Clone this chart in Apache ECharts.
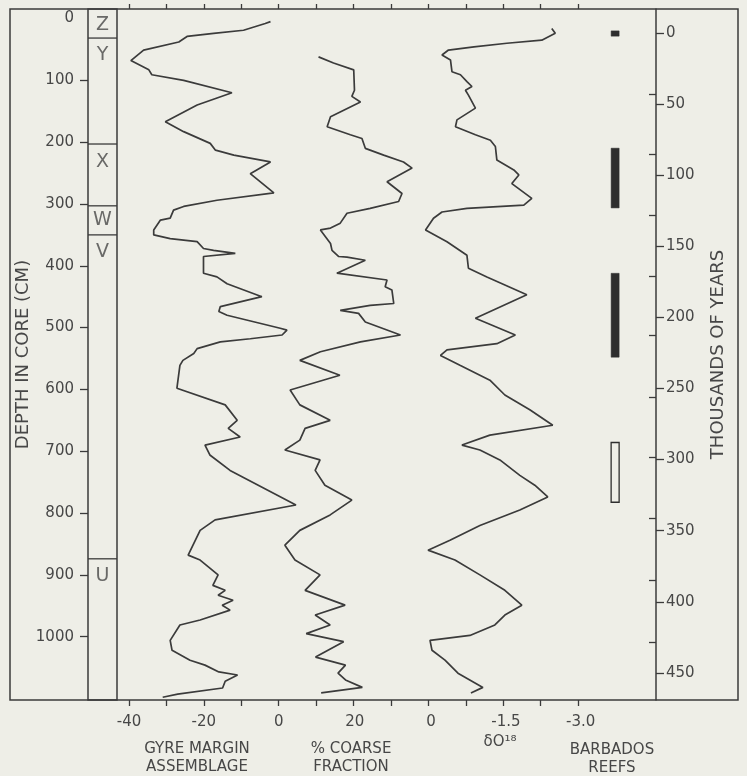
<!DOCTYPE html>
<html><head><meta charset="utf-8">
<script src="https://cdn.jsdelivr.net/npm/echarts@6/dist/echarts.min.js"></script>
<style>html,body{margin:0;padding:0;background:#eeeee7}#c{width:747px;height:776px}</style>
</head><body><div id="c"></div>
<script>
// ---- tick values / labels ----
const depthTicks = [100,200,300,400,500,600,700,800,900,1000];
const depthLabels = [0,100,200,300,400,500,600,700,800,900,1000];
const ageTicks = [0,50,100,150,200,250,300,350,400,450];
const ageMarks = [42.9,85.1,128.0,170.9,212.4,256.0,298.2,341.1,384.7,428.3];
const gyreTicks = [-40,-30,-20,-10,0,10,20,30,40,50,60,70,80];
const gyreLabels = [-40,-20,0];
const coarseLabels = [20];
const deltaLabels = [0,-1.5,-3.0];
// ---- zones (depth cm) ----
const zoneBounds = [31.6,203,303,350,874];
const zoneNames = ['Z','Y','X','W','V','U'];
const zoneLabelDepth = [10.5,59,232,326,378,902];
// ---- series: [depth cm, value] ----
const gyre = [[5,-2.2],[8,-3.6],[19,-9.4],[24,-17.4],[29,-24.5],[38,-26.7],[51,-36.1],[68,-39.5],[83,-34.7],[91,-33.9],[100,-25.4],[120,-12.5],[140,-21.8],[167,-30.3],[183,-25.4],[202,-18.3],[213,-16.9],[221,-12.0],[232,-2.2],[251,-7.6],[282,-1.3],[294,-16.5],[304,-25.4],[310,-28.1],[323,-29.0],[326,-31.6],[342,-33.4],[350,-33.4],[356,-29.0],[361,-21.8],[372,-20.1],[375,-17.4],[380,-11.6],[385,-20.1],[412,-20.1],[418,-16.5],[429,-13.8],[450,-4.5],[466,-15.6],[474,-16.0],[480,-13.8],[501,0.4],[504,2.2],[512,0.9],[518,-7.6],[523,-15.6],[534,-21.8],[542,-22.7],
 [553,-25.6],[561,-26.4],[598,-27.2],[625,-14.3],[650,-11.1],[663,-13.5],[677,-10.3],[690,-19.7],[706,-18.4],[731,-13.0],[787,4.6],[811,-17.0],[828,-21.0],[868,-24.2],[876,-21.0],[900,-16.2],[917,-17.6],[925,-14.3],[933,-16.2],[941,-12.2],[949,-15.1],[957,-13.0],[973,-21.0],[981,-26.4],[1006,-29.0],[1022,-28.5],[1038,-23.7],[1046,-19.7],[1057,-16.0],[1062,-11.0],[1072,-14.3],[1083,-15.0],[1093,-27.0],[1098,-31.0]];
const coarse = [[62,10.3],[72,14.3],[83,19.7],[116,19.9],[126,19.2],[135,21.5],[159,13.5],[175,12.6],[188,18.8],[194,21.9],[210,22.8],[221,27.7],[232,33.0],[242,35.3],[264,28.6],[283,32.6],[296,31.7],[307,24.1],[315,17.9],[331,16.1],[339,13.5],[342,10.8],[364,13.5],[375,13.9],[385,15.7],[386,17.9],[391,22.8],[412,15.2],[423,28.6],[434,28.1],[439,29.9],[461,30.4],[464,24.1],[472,16.1],[477,21.0],[491,22.8],[512,32.2],[523,21.5],[539,10.8],
 [553,5.3],[577,16.0],[601,2.7],[625,5.3],[650,13.4],[663,6.7],[682,5.3],[698,1.3],[714,10.7],[731,9.4],[755,12.0],[779,19.2],[803,13.4],[828,5.3],[852,1.3],[876,4.0],[900,10.7],[925,6.7],[949,17.4],[965,9.4],[981,13.4],[995,7.0],[1008,17.0],[1033,9.5],[1046,17.5],[1059,15.5],[1070,17.5],[1082,22.0],[1091,11.0]];
const delta = [[16,-2.42],[24,-2.49],[35,-2.22],[40,-1.52],[46,-0.86],[51,-0.35],[59,-0.22],[67,-0.39],[86,-0.42],[91,-0.59],[102,-0.72],[110,-0.82],[116,-0.69],[124,-0.75],[145,-0.89],[164,-0.52],[175,-0.49],[188,-0.89],[197,-1.19],[207,-1.29],[229,-1.32],[245,-1.66],[253,-1.76],[267,-1.62],[291,-2.02],[302,-1.86],[307,-0.72],[313,-0.22],[323,-0.05],[342,0.11],[361,-0.32],[383,-0.72],[404,-0.75],[418,-1.12],[447,-1.92],[485,-0.89],[512,-1.69],[526,-1.32],[536,-0.32],[545,-0.19],
 [561,-0.58],[585,-1.18],[609,-1.48],[633,-1.98],[658,-2.44],[674,-1.18],[690,-0.62],[698,-0.98],[714,-1.38],[739,-1.78],[755,-2.08],[774,-2.34],[795,-1.78],[820,-0.98],[844,-0.38],[860,0.06],[876,-0.48],[900,-0.98],[925,-1.48],[949,-1.82],[965,-1.48],[981,-1.28],[998,-0.78],[1006,0.02],[1022,-0.02],[1038,-0.28],[1059,-0.54],[1082,-1.04],[1091,-0.80]];
// ---- Barbados reefs: [start ky, end ky, filled] ----
const reefs = [[-1.5,2.2,1],[81,123,1],[169,228,1],[288,330,0]];
const REEF_X = -3.69;

const C = '#3b3b3b', T = '#474747', FONT = 'DejaVu Sans';
const DEPTH_MIN = -15.4, DEPTH_MAX = 1102.4, AGE_MIN = -16.9, AGE_MAX = 469.1;
const noLine = {show:false,onZero:false};
const plain = v => String(v);
const lab = (extra) => Object.assign({color:T,fontSize:15,fontFamily:FONT,formatter:plain}, extra);

const chart = echarts.init(document.getElementById('c'));
chart.setOption({
  backgroundColor:'#eeeee7',
  animation:false,
  textStyle:{fontFamily:FONT},
  grid:[
    {left:10,right:9,top:9,bottom:76,show:true,borderColor:C,borderWidth:1.5,backgroundColor:'transparent'},
    {left:117,right:91,top:9,bottom:76},
    {left:88,width:29,top:9,bottom:76,show:true,borderColor:C,borderWidth:1.5,backgroundColor:'transparent'}
  ],
  xAxis:[
    {gridIndex:0,type:'value',show:false,min:0,max:1},
    {gridIndex:2,type:'value',show:false,min:0,max:1},
    {gridIndex:1,type:'value',position:'bottom',min:-43.21,max:100.8,axisLine:noLine,splitLine:{show:false},
      axisTick:{show:true,length:6,customValues:gyreTicks,lineStyle:{color:C,width:1.3}},
      axisLabel:lab({customValues:gyreLabels,margin:15})},
    {gridIndex:1,type:'value',position:'bottom',min:-43.56,max:100.48,axisLine:noLine,splitLine:{show:false},
      axisTick:{show:false},axisLabel:lab({customValues:coarseLabels,margin:15})},
    {gridIndex:1,type:'value',position:'bottom',inverse:true,min:-4.509,max:6.293,axisLine:noLine,splitLine:{show:false},
      axisTick:{show:false},axisLabel:lab({customValues:deltaLabels,margin:15,formatter:v=>v===0?'0':v.toFixed(1)})},
    {gridIndex:1,type:'value',position:'top',min:-43.21,max:100.8,axisLine:noLine,splitLine:{show:false},
      axisTick:{show:true,length:5,customValues:gyreTicks,lineStyle:{color:C,width:1.3}},axisLabel:{show:false}}
  ],
  yAxis:[
    {gridIndex:0,type:'value',show:false,min:0,max:1},
    {gridIndex:2,type:'value',position:'left',inverse:true,min:DEPTH_MIN,max:DEPTH_MAX,axisLine:noLine,splitLine:{show:false},
      axisTick:{show:true,length:8,customValues:depthTicks,lineStyle:{color:C,width:1.3}},
      axisLabel:lab({customValues:depthLabels,margin:14}),
      name:'DEPTH IN CORE (CM)',nameLocation:'middle',nameRotate:90,nameGap:52,
      nameTextStyle:{color:T,fontSize:18,fontFamily:FONT}},
    {gridIndex:1,type:'value',position:'right',inverse:true,min:AGE_MIN,max:AGE_MAX,
      axisLine:{show:true,onZero:false,lineStyle:{color:C,width:1.5}},splitLine:{show:false},
      axisTick:{show:true,length:8,customValues:ageTicks,lineStyle:{color:C,width:1.3}},
      axisLabel:lab({customValues:ageTicks,margin:10}),
      name:'THOUSANDS OF YEARS',nameLocation:'middle',nameRotate:90,nameGap:53,
      nameTextStyle:{color:T,fontSize:18,fontFamily:FONT}},
    {gridIndex:1,type:'value',position:'right',inverse:true,min:AGE_MIN,max:AGE_MAX,axisLine:noLine,splitLine:{show:false},
      axisTick:{show:true,inside:true,length:7,customValues:ageMarks,lineStyle:{color:C,width:1.3}},axisLabel:{show:false}},
    {gridIndex:1,type:'value',show:false,inverse:true,min:DEPTH_MIN,max:DEPTH_MAX}
  ],
  series:[
    {type:'line',xAxisIndex:2,yAxisIndex:4,data:gyre.map(p=>[p[1],p[0]]),symbol:'none',silent:true,lineStyle:{color:C,width:1.7}},
    {type:'line',xAxisIndex:3,yAxisIndex:4,data:coarse.map(p=>[p[1],p[0]]),symbol:'none',silent:true,lineStyle:{color:C,width:1.7}},
    {type:'line',xAxisIndex:4,yAxisIndex:4,data:delta.map(p=>[p[1],p[0]]),symbol:'none',silent:true,lineStyle:{color:C,width:1.7}},
    {type:'custom',xAxisIndex:1,yAxisIndex:1,silent:true,data:zoneBounds.map(d=>[0,d]),
      renderItem:(params,api)=>{const a=api.coord([0,api.value(1)]),b=api.coord([1,api.value(1)]);
        return {type:'line',shape:{x1:a[0],y1:a[1],x2:b[0],y2:b[1]},style:{stroke:C,lineWidth:1.3}};}},
    {type:'scatter',xAxisIndex:1,yAxisIndex:1,silent:true,symbolSize:1,itemStyle:{color:'transparent'},
      data:zoneNames.map((n,i)=>({name:n,value:[0.5,zoneLabelDepth[i]]})),
      label:{show:true,position:'inside',formatter:'{b}',color:T,fontSize:19,fontFamily:FONT}},
    {type:'custom',xAxisIndex:4,yAxisIndex:2,silent:true,data:reefs.map(r=>[REEF_X,r[0],r[1],r[2]]),
      renderItem:(params,api)=>{const a=api.coord([api.value(0),api.value(1)]),b=api.coord([api.value(0),api.value(2)]);
        const f=api.value(3);
        return {type:'rect',shape:{x:a[0]-4,y:a[1],width:8,height:b[1]-a[1]},
          style:{fill:f?'#2e2e2e':'none',stroke:'#2e2e2e',lineWidth:f?0.5:1.3}};}}
  ],
  graphic:[
    {type:'text',x:197,y:740,silent:true,style:{text:'GYRE MARGIN\nASSEMBLAGE',textAlign:'center',align:'center',textVerticalAlign:'top',verticalAlign:'top',fill:T,font:'15px "DejaVu Sans"',lineHeight:18}},
    {type:'text',x:351,y:740,silent:true,style:{text:'% COARSE\nFRACTION',textAlign:'center',align:'center',textVerticalAlign:'top',verticalAlign:'top',fill:T,font:'15px "DejaVu Sans"',lineHeight:18}},
    {type:'text',x:500,y:733,silent:true,style:{text:'δO¹⁸',textAlign:'center',align:'center',textVerticalAlign:'top',verticalAlign:'top',fill:T,font:'15px "DejaVu Sans"',lineHeight:18}},
    {type:'text',x:612,y:741,silent:true,style:{text:'BARBADOS\nREEFS',textAlign:'center',align:'center',textVerticalAlign:'top',verticalAlign:'top',fill:T,font:'15px "DejaVu Sans"',lineHeight:18}}
  ]
});
</script></body></html>
